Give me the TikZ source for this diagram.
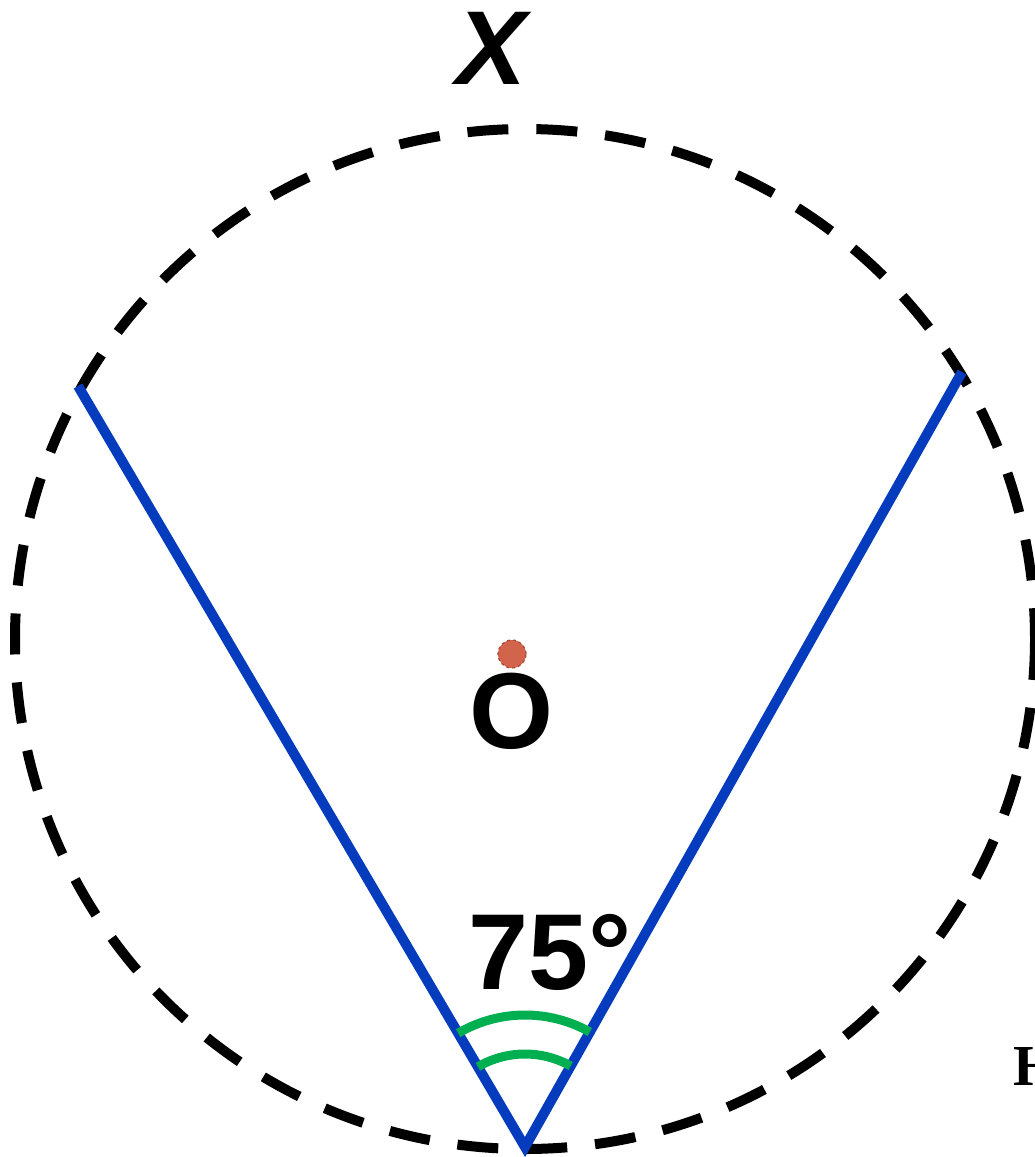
\documentclass[tikz,border=0pt]{standalone}
\usepackage{fontspec}
\setmainfont{Liberation Sans}
\newfontfamily\serifb{Liberation Serif}
\usetikzlibrary{calc}
\definecolor{segblue}{RGB}{5,60,190}
\definecolor{arcgreen}{RGB}{0,176,80}
\definecolor{dotred}{RGB}{210,100,75}
\definecolor{dotedge}{RGB}{165,70,50}
\begin{document}
\begin{tikzpicture}[x=1pt,y=-1pt,
  circ/.style={draw=black,line width=10pt,dash pattern=on 41pt off 28pt},
  seg/.style={draw=segblue,line width=10pt,line cap=butt,line join=miter},
  arcg/.style={draw=arcgreen,line width=9pt},
  lbl/.style={font=\fontsize{108}{108}\selectfont\bfseries,inner sep=0pt}]
\useasboundingbox (0,0) rectangle (1034,1157);
\coordinate (C) at (525,639);
\draw[circ] (C) circle[radius=510];
\coordinate (V) at (525,1147);
\coordinate (A) at (78,386);
\coordinate (B) at (962,372);
\draw[seg] (A) -- (V) -- (B);
\draw[arcg] ($(V)+(-120.4:132)$) arc[start angle=-120.4, end angle=-60.6, radius=132];
\draw[arcg] ($(V)+(-120.4:93)$) arc[start angle=-120.4, end angle=-60.6, radius=93];
\node[circle,fill=dotred,draw=dotedge,dashed,line width=1.2pt,minimum size=28pt,inner sep=0pt] (dot) at (512,654) {};
\node[lbl] (O) at (511,711) {O};
\node[lbl] (ang) at (550,952) {75°};
\node[lbl,font=\fontsize{105}{105}\selectfont\bfseries\itshape] (X) at (492,48) {X};
\node[font=\serifb\fontsize{58}{58}\selectfont\bfseries,inner sep=0pt,anchor=base west] (H) at (1013,1085) {H};
\end{tikzpicture}
\end{document}
